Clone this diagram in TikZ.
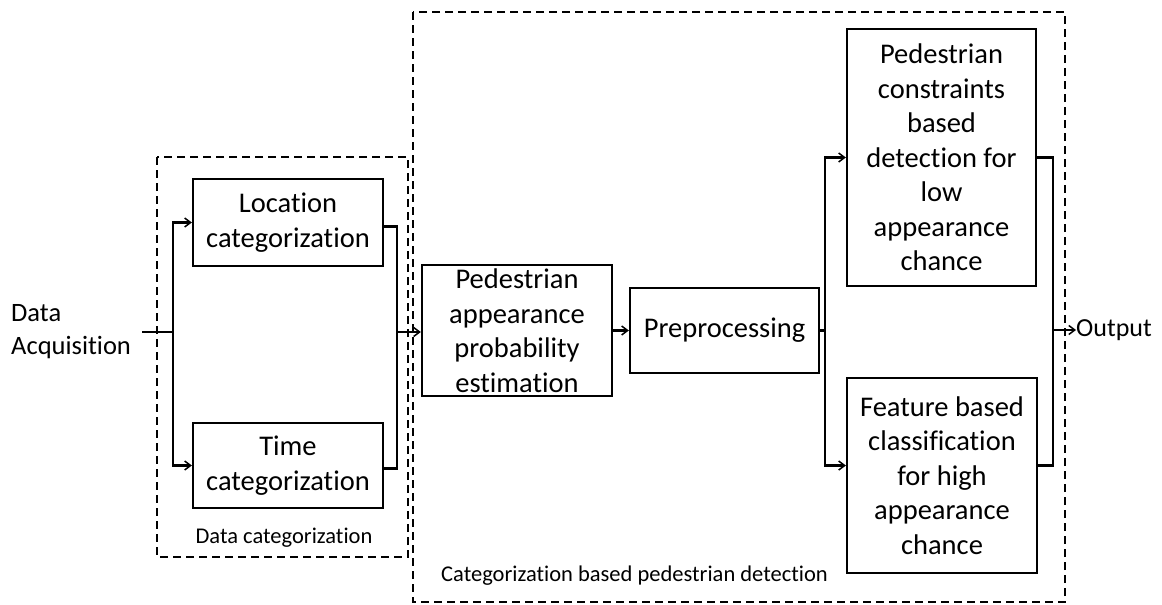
\documentclass[tikz,border=0pt]{standalone}
\usepackage{fontspec}
\setmainfont[Ligatures=NoCommon]{Carlito}
\usetikzlibrary{arrows.meta,calc}
\begin{document}
\begin{tikzpicture}[x=1pt,y=-1pt,
  blk/.style={draw, line width=2.2pt, align=center, inner sep=0pt, font=\fontsize{28.5}{34.5}\selectfont},
  lbl/.style={inner sep=0pt, font=\fontsize{22.5}{26}\selectfont},
  conn/.style={line width=2.2pt},
  arr/.style={line width=2.2pt, -{Straight Barb[length=6pt,width=9pt,line width=1.5pt]}},
  dashbox/.style={line width=1.8pt, dash pattern=on 8pt off 5pt}]
\useasboundingbox (0,0) rectangle (1162,605);
% dashed groups
\draw[dashbox] (157,157) rectangle (408,557);
\draw[dashbox] (413,12) rectangle (1065,602);
% blocks
\node[blk, minimum width=190pt, minimum height=87pt] (loc) at (288,222.5) {Location\\categorization};
\node[blk, minimum width=190pt, minimum height=85pt] (time) at (288,465.5) {Time\\categorization};
\node[blk, minimum width=190pt, minimum height=131pt] (ped) at (517,330.5) {Pedestrian\\appearance\\probability\\estimation};
\node[blk, minimum width=189pt, minimum height=85pt] (pre) at (724.5,330.5) {Preprocessing};
\node[blk, minimum width=189pt, minimum height=257pt] (low) at (941.5,157.5) {Pedestrian\\constraints\\based\\detection for\\low\\appearance\\chance};
\node[blk, minimum width=190pt, minimum height=195pt] (high) at (942,475.5) {Feature based\\classification\\for high\\appearance\\chance};
% labels
\node[lbl, align=left, anchor=west, font=\fontsize{26.5}{33}\selectfont] (acq) at (11,332) {Data\\Acquisition};
\node[lbl] (dcat) at (284,538) {Data categorization};
\node[lbl, anchor=west] (cbpd) at (441,576) {Categorization based pedestrian detection};
\node[lbl, anchor=west, font=\fontsize{26}{30}\selectfont] (out) at (1076,330) {Output};
% connectors
\coordinate (in) at (142,332);
\coordinate (split1) at (173,332);
\draw[conn] (in) -- (split1);
\draw[arr] (split1) |- (loc.west);
\draw[arr] (split1) |- (time.west);
\coordinate (merge1) at (397,332);
\draw[conn] ([yshift=-4pt]loc.east) -| (merge1);
\draw[conn] ([yshift=-3pt]time.east) -| (merge1);
\draw[arr] (merge1) -- (ped.west |- merge1);
\draw[arr] (ped.east |- pre.west) -- (pre.west);
\coordinate (split2) at (825,330.5);
\draw[conn] (pre.east) -- (split2);
\draw[arr] (split2) |- (low.west);
\draw[arr] (split2) |- ([yshift=10pt]high.west);
\coordinate (merge2) at (1053,330);
\draw[conn] (low.east) -| (merge2);
\draw[conn] ([yshift=10pt]high.east) -| (merge2);
\draw[arr] (merge2) -- (out.west);
\end{tikzpicture}
\end{document}
